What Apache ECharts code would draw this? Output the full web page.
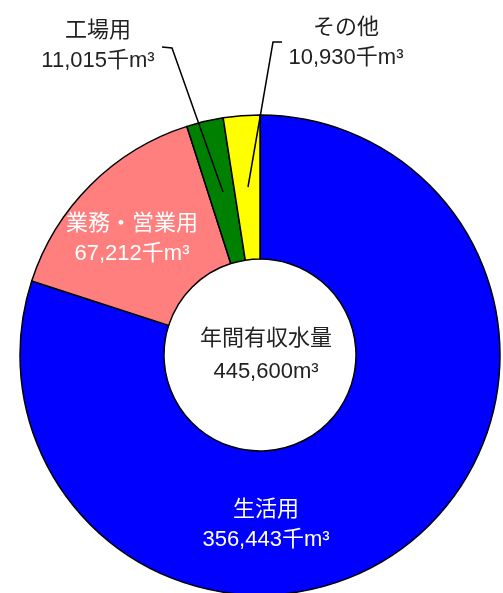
<!DOCTYPE html>
<html>
<head>
<meta charset="utf-8">
<script src="https://cdn.jsdelivr.net/npm/echarts@6/dist/echarts.min.js"></script>
<style>
html,body{margin:0;padding:0;background:#fff;}
#chart{width:503px;height:593px;}
</style>
</head>
<body>
<div id="chart"></div>
<script>
var categories = ['生活用', '業務・営業用', '工場用', 'その他'];
var values = [356443, 67212, 11015, 10930];
var colors = ['#0000FF', '#FF7F7F', '#008000', '#FFFF00'];
var unit = '千m³';
var centerTitle = '年間有収水量';
var centerUnit = 'm³';

var FONT = "'Liberation Sans', 'Noto Sans CJK JP', sans-serif";
var total = values.reduce(function (a, b) { return a + b; }, 0);
function fmt(v) { return v.toLocaleString('en-US'); }

// label placement (centre of each two-line label) and leader lines
var labelPos = [[266, 525], [132, 239], [98, 46], [346, 43]];
var leaders = [null, null,
  [[162, 47], [172, 48], [223, 192]],
  [[282, 42], [273, 42], [248, 187]]];
var inside = [true, true, false, false];

var data = categories.map(function (c, i) {
  return {
    name: c,
    value: values[i],
    itemStyle: { color: colors[i] },
    label: {
      color: inside[i] ? '#ffffff' : '#222222',
      position: inside[i] ? 'inside' : 'outside'
    },
    labelLine: { show: false }
  };
});

var graphics = [{
  type: 'text',
  z: 100,
  style: {
    x: 266, y: 339,
    text: centerTitle,
    fontFamily: FONT,
    fontSize: 22,
    fill: '#222222',
    align: 'center',
    verticalAlign: 'middle'
  }
}, {
  type: 'text',
  z: 100,
  style: {
    x: 266, y: 372,
    text: fmt(total) + centerUnit,
    fontFamily: FONT,
    fontSize: 22,
    fill: '#222222',
    align: 'center',
    verticalAlign: 'middle'
  }
}];
leaders.forEach(function (pts) {
  if (!pts) return;
  graphics.push({
    type: 'polyline',
    z: 100,
    shape: { points: pts },
    style: { stroke: '#000', lineWidth: 1.5, fill: null }
  });
});

var chart = echarts.init(document.getElementById('chart'));
chart.setOption({
  animation: false,
  series: [{
    type: 'pie',
    center: [260, 355],
    radius: [96, 240],
    startAngle: 90,
    clockwise: true,
    avoidLabelOverlap: false,
    silent: true,
    itemStyle: { borderColor: '#000', borderWidth: 1.5 },
    label: {
      show: true,
      fontFamily: FONT,
      fontSize: 22,
      lineHeight: 30,
      align: 'center',
      formatter: function (p) { return p.name + '\n' + fmt(p.value) + unit; }
    },
    labelLayout: function (p) {
      var i = p.dataIndex;
      return { x: labelPos[i][0], y: labelPos[i][1], align: 'center', verticalAlign: 'middle' };
    },
    data: data
  }],
  graphic: graphics
});
</script>
</body>
</html>
